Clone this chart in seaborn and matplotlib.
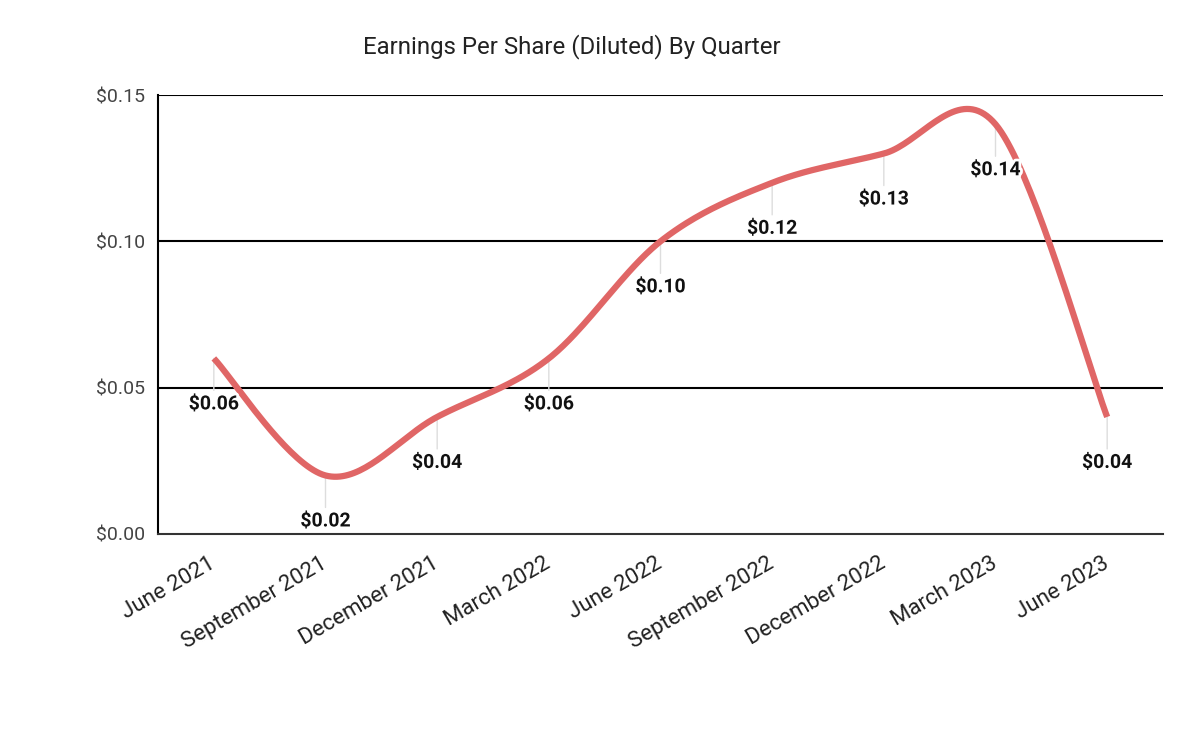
import numpy as np
import pandas as pd
import matplotlib
matplotlib.use('Agg')
import matplotlib.pyplot as plt
import matplotlib.transforms as mtransforms
import matplotlib.patheffects as pe
import seaborn as sns

quarters = ['June 2021', 'September 2021', 'December 2021', 'March 2022', 'June 2022',
            'September 2022', 'December 2022', 'March 2023', 'June 2023']
eps = [0.06, 0.02, 0.04, 0.06, 0.10, 0.12, 0.13, 0.14, 0.04]
y_ticks = [0.00, 0.05, 0.10, 0.15]

sns.set_style('white')
plt.rcParams['font.family'] = ['Roboto', 'DejaVu Sans']

LINE_COLOR = '#e06666'


def smooth_curve(xs, ys, k=1/6, n=40):
    # Catmull-Rom style bezier through the points (only for drawing the line)
    xs = np.asarray(xs, float)
    ys = np.asarray(ys, float)
    pts = np.column_stack([xs, ys])
    out = []
    for i in range(len(pts) - 1):
        p0 = pts[i - 1] if i > 0 else pts[i]
        p1 = pts[i]
        p2 = pts[i + 1]
        p3 = pts[i + 2] if i + 2 < len(pts) else pts[i + 1]
        c1 = p1 + (p2 - p0) * k
        c2 = p2 - (p3 - p1) * k
        t = np.linspace(0, 1, n)[:, None]
        seg = ((1 - t) ** 3) * p1 + 3 * ((1 - t) ** 2) * t * c1 + 3 * (1 - t) * t ** 2 * c2 + t ** 3 * p2
        out.append(seg if i == 0 else seg[1:])
    return np.vstack(out)


x_pos = np.arange(len(quarters))
curve = smooth_curve(x_pos, eps)
curve_df = pd.DataFrame({'x': curve[:, 0], 'eps': curve[:, 1]})

fig = plt.figure(figsize=(12, 7.41), dpi=100)
ax = fig.add_axes([158 / 1200, 1 - 534 / 741, (1163 - 158) / 1200, (534 - 95) / 741])

# gridlines
for yt in y_ticks[1:]:
    ax.axhline(yt, color='black', linewidth=1.5, zorder=1)

# leader lines below each point
for xp, v in zip(x_pos, eps):
    ax.annotate('', xy=(xp, v), xycoords='data',
                xytext=(0, -32), textcoords='offset pixels',
                arrowprops=dict(arrowstyle='-', color='#dddddd', lw=1.0,
                                shrinkA=0, shrinkB=0),
                zorder=2)

sns.lineplot(data=curve_df, x='x', y='eps', color=LINE_COLOR, linewidth=4.5,
             sort=False, ax=ax, zorder=3)
ax.lines[-1].set_solid_capstyle('butt')

for xp, v in zip(x_pos, eps):
    ax.annotate(f'${v:.2f}', xy=(xp, v), xycoords='data',
                xytext=(0, -46), textcoords='offset pixels',
                ha='center', va='center', fontsize=14, fontweight='bold',
                color='#111111', zorder=5,
                path_effects=[pe.withStroke(linewidth=4, foreground='white')])

ax.set_xlim(-0.5, len(quarters) - 0.5)
ax.set_ylim(0, 0.15)
ax.set_yticks(y_ticks)
ax.set_yticklabels([f'${t:.2f}' for t in y_ticks], fontsize=14, color='#444444')
ax.set_xticks(x_pos)
ax.set_xticklabels(quarters, fontsize=16, color='#222222',
                   rotation=30, ha='right', va='center', rotation_mode='anchor')
offset = mtransforms.ScaledTranslation(13 / 100, 0, fig.dpi_scale_trans)
for lab in ax.get_xticklabels():
    lab.set_transform(lab.get_transform() + offset)
ax.tick_params(axis='x', length=0, pad=20)
ax.tick_params(axis='y', length=0, pad=9)
ax.set_xlabel('')
ax.set_ylabel('')

for side in ['top', 'right']:
    ax.spines[side].set_visible(False)
ax.spines['left'].set_color('black')
ax.spines['left'].set_linewidth(1.5)
ax.spines['bottom'].set_color('#333333')
ax.spines['bottom'].set_linewidth(1.5)

fig.text(572 / 1200, 1 - 47 / 741, 'Earnings Per Share (Diluted) By Quarter',
         ha='center', va='center', fontsize=17.3, color='#222222')

fig.savefig('out.png', dpi=100, facecolor='white')
